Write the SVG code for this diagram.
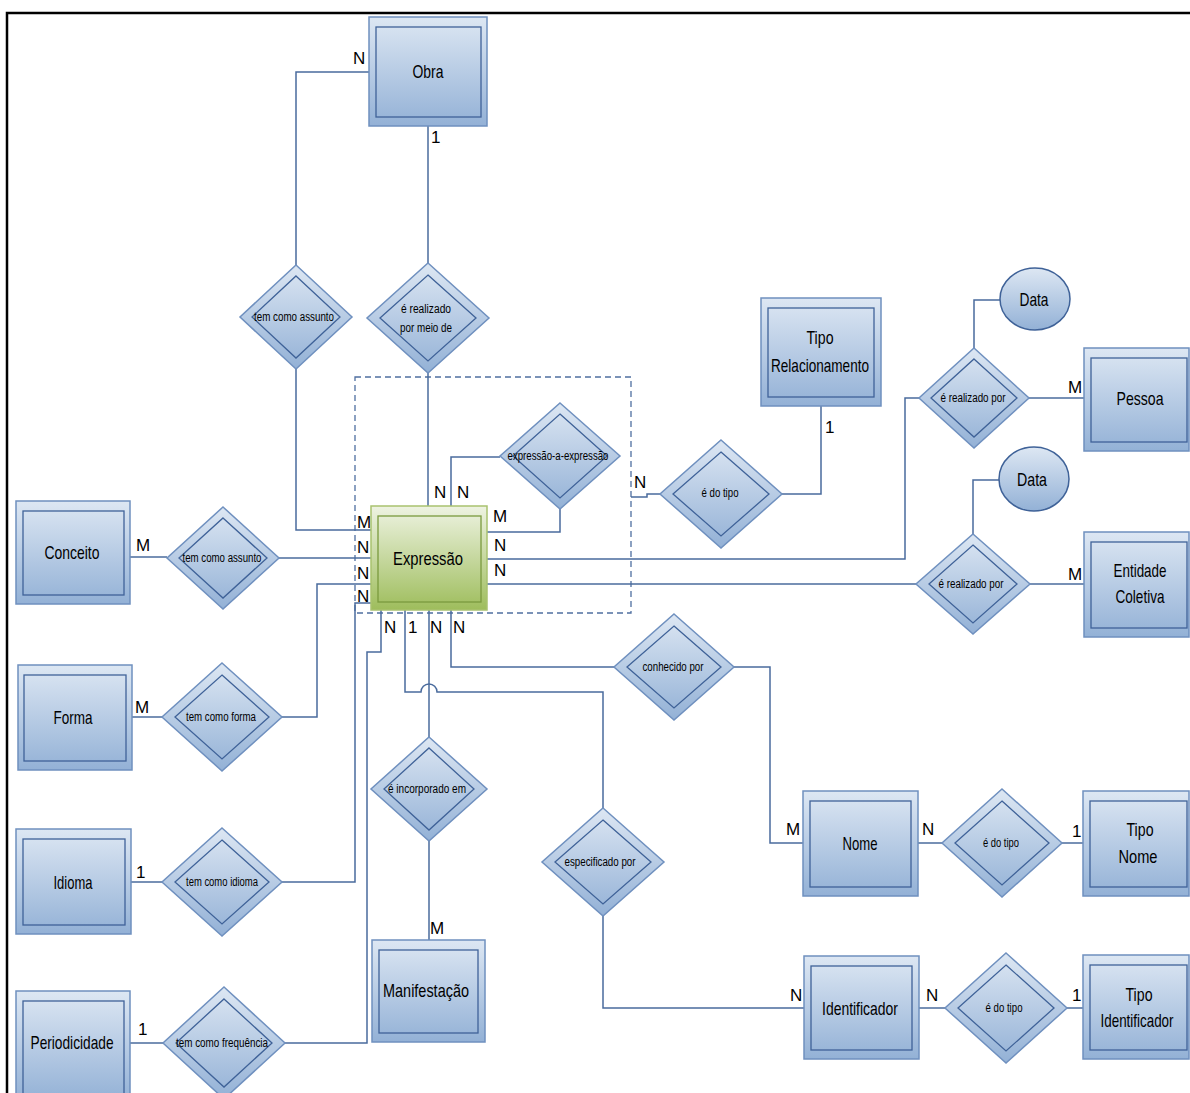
<svg xmlns="http://www.w3.org/2000/svg" width="1190" height="1093" viewBox="0 0 1190 1093">
<defs>
<linearGradient id="gb" x1="0" y1="0" x2="0" y2="1"><stop offset="0" stop-color="#dde7f3"/><stop offset="1" stop-color="#93b1d6"/></linearGradient>
<linearGradient id="gg" x1="0" y1="0" x2="0" y2="1"><stop offset="0" stop-color="#eef3e2"/><stop offset="1" stop-color="#9ebd5c"/></linearGradient>
<style>
.o{fill:url(#gb);stroke:#6f90bf;stroke-width:1.5}
.i{fill:none;stroke:#3f6298;stroke-width:1.3}
.og{fill:url(#gg);stroke:#a9c26f;stroke-width:1.5}
.ig{fill:none;stroke:#7a9a3e;stroke-width:1.3}
.t{font-family:"Liberation Sans",Arial,sans-serif;font-size:19px;fill:#000;text-anchor:middle}
.s{font-family:"Liberation Sans",Arial,sans-serif;font-size:12.5px;fill:#000;text-anchor:middle}
.c{font-family:"Liberation Sans",Arial,sans-serif;font-size:17px;fill:#000}
.l{fill:none;stroke:#4a6b9d;stroke-width:1.5}
</style>
</defs>
<rect width="1190" height="1093" fill="#fff"/>
<path d="M7,1093 V13 H1190" fill="none" stroke="#000" stroke-width="2.5"/>
<rect x="355" y="377" width="276" height="236" fill="none" stroke="#4f6fa0" stroke-width="1.3" stroke-dasharray="6,4"/>

<g id="connectors">
<path class="l" d="M369,72 H296 V265"/>
<path class="l" d="M296,369 V530 H371"/>
<path class="l" d="M428,126 V263"/>
<path class="l" d="M428,373 V506"/>
<path class="l" d="M451,506 V457 H500"/>
<path class="l" d="M560,509 V532 H487"/>
<path class="l" d="M130,557 H167"/>
<path class="l" d="M279,558 H371"/>
<path class="l" d="M132,717 H162"/>
<path class="l" d="M282,717 H317 V584 H371"/>
<path class="l" d="M131,882 H162"/>
<path class="l" d="M282,882 H355 V603 H371"/>
<path class="l" d="M130,1043 H163"/>
<path class="l" d="M285,1043 H367 V652 H381 V610"/>
<path class="l" d="M405,610 V692 H421 A8,8 0 0 1 437,692 H603 V808"/>
<path class="l" d="M603,916 V1008 H804"/>
<path class="l" d="M429,610 V737"/>
<path class="l" d="M429,841 V940"/>
<path class="l" d="M451,610 V667 H614"/>
<path class="l" d="M734,667 H770 V843 H803"/>
<path class="l" d="M918,843 H942"/>
<path class="l" d="M1062,843 H1083"/>
<path class="l" d="M919,1008 H945"/>
<path class="l" d="M1067,1008 H1083"/>
<path class="l" d="M487,559 H905 V398 H919"/>
<path class="l" d="M1029,398 H1084"/>
<path class="l" d="M974,348 V300 H1000"/>
<path class="l" d="M487,584 H916"/>
<path class="l" d="M1030,584 H1084"/>
<path class="l" d="M973,534 V480 H999"/>
<path class="l" d="M631,497 H647 V494 H660"/>
<path class="l" d="M782,494 H821 V406"/>
</g>

<g id="labels">
<text class="c" x="353" y="64">N</text>
<text class="c" x="431" y="143">1</text>
<text class="c" x="357" y="528">M</text>
<text class="c" x="357" y="553">N</text>
<text class="c" x="357" y="579">N</text>
<text class="c" x="357" y="602">N</text>
<text class="c" x="434" y="498">N</text>
<text class="c" x="457" y="498">N</text>
<text class="c" x="493" y="522">M</text>
<text class="c" x="494" y="551">N</text>
<text class="c" x="494" y="576">N</text>
<text class="c" x="384" y="633">N</text>
<text class="c" x="408" y="633">1</text>
<text class="c" x="430" y="633">N</text>
<text class="c" x="453" y="633">N</text>
<text class="c" x="136" y="551">M</text>
<text class="c" x="135" y="713">M</text>
<text class="c" x="136" y="878">1</text>
<text class="c" x="138" y="1035">1</text>
<text class="c" x="430" y="934">M</text>
<text class="c" x="634" y="488">N</text>
<text class="c" x="825" y="433">1</text>
<text class="c" x="1068" y="393">M</text>
<text class="c" x="1068" y="580">M</text>
<text class="c" x="786" y="835">M</text>
<text class="c" x="922" y="835">N</text>
<text class="c" x="1072" y="837">1</text>
<text class="c" x="790" y="1001">N</text>
<text class="c" x="926" y="1001">N</text>
<text class="c" x="1072" y="1001">1</text>
</g>

<g id="obra"><rect class="o" x="369" y="17" width="118" height="109"/><rect class="i" x="376" y="27" width="105" height="90"/><text class="t" x="428" y="78" textLength="31" lengthAdjust="spacingAndGlyphs">Obra</text></g>
<g id="expressao"><rect class="og" x="371" y="506" width="116" height="104"/><rect class="ig" x="378" y="516" width="103" height="86"/><text class="t" x="428" y="565" textLength="70" lengthAdjust="spacingAndGlyphs">Expressão</text></g>
<g id="tipo-relacionamento"><rect class="o" x="761" y="298" width="120" height="108"/><rect class="i" x="768" y="308" width="106" height="89"/><text class="t" x="820" y="344" textLength="27" lengthAdjust="spacingAndGlyphs">Tipo</text><text class="t" x="820" y="372" textLength="98" lengthAdjust="spacingAndGlyphs">Relacionamento</text></g>
<g id="pessoa"><rect class="o" x="1084" y="348" width="105" height="103"/><rect class="i" x="1091" y="358" width="96" height="84"/><text class="t" x="1140" y="405" textLength="47" lengthAdjust="spacingAndGlyphs">Pessoa</text></g>
<g id="entidade-coletiva"><rect class="o" x="1084" y="532" width="105" height="105"/><rect class="i" x="1091" y="542" width="96" height="86"/><text class="t" x="1140" y="577" textLength="53" lengthAdjust="spacingAndGlyphs">Entidade</text><text class="t" x="1140" y="603" textLength="49" lengthAdjust="spacingAndGlyphs">Coletiva</text></g>
<g id="nome"><rect class="o" x="803" y="791" width="115" height="105"/><rect class="i" x="810" y="801" width="101" height="86"/><text class="t" x="860" y="850" textLength="35" lengthAdjust="spacingAndGlyphs">Nome</text></g>
<g id="tipo-nome"><rect class="o" x="1083" y="791" width="106" height="105"/><rect class="i" x="1090" y="801" width="97" height="86"/><text class="t" x="1140" y="836" textLength="27" lengthAdjust="spacingAndGlyphs">Tipo</text><text class="t" x="1138" y="863" textLength="39" lengthAdjust="spacingAndGlyphs">Nome</text></g>
<g id="identificador"><rect class="o" x="804" y="956" width="115" height="103"/><rect class="i" x="811" y="966" width="101" height="84"/><text class="t" x="860" y="1015" textLength="76" lengthAdjust="spacingAndGlyphs">Identificador</text></g>
<g id="tipo-identificador"><rect class="o" x="1083" y="955" width="106" height="104"/><rect class="i" x="1090" y="965" width="97" height="85"/><text class="t" x="1139" y="1001" textLength="27" lengthAdjust="spacingAndGlyphs">Tipo</text><text class="t" x="1137" y="1027" textLength="73" lengthAdjust="spacingAndGlyphs">Identificador</text></g>
<g id="manifestacao"><rect class="o" x="372" y="940" width="113" height="102"/><rect class="i" x="379" y="950" width="99" height="83"/><text class="t" x="426" y="997" textLength="86" lengthAdjust="spacingAndGlyphs">Manifestação</text></g>
<g id="conceito"><rect class="o" x="16" y="501" width="114" height="103"/><rect class="i" x="23" y="511" width="101" height="84"/><text class="t" x="72" y="559" textLength="55" lengthAdjust="spacingAndGlyphs">Conceito</text></g>
<g id="forma"><rect class="o" x="18" y="665" width="114" height="105"/><rect class="i" x="24" y="675" width="102" height="86"/><text class="t" x="73" y="724" textLength="39" lengthAdjust="spacingAndGlyphs">Forma</text></g>
<g id="idioma"><rect class="o" x="16" y="829" width="115" height="105"/><rect class="i" x="23" y="839" width="102" height="86"/><text class="t" x="73" y="889" textLength="39" lengthAdjust="spacingAndGlyphs">Idioma</text></g>
<g id="periodicidade"><rect class="o" x="16" y="991" width="114" height="110"/><rect class="i" x="23" y="1001" width="101" height="96"/><text class="t" x="72" y="1049" textLength="83" lengthAdjust="spacingAndGlyphs">Periodicidade</text></g>

<g id="data1"><ellipse class="o" cx="1035" cy="299" rx="35" ry="31" style="stroke:#3f6298"/><text class="t" x="1034" y="306" textLength="29" lengthAdjust="spacingAndGlyphs">Data</text></g>
<g id="data2"><ellipse class="o" cx="1034" cy="479" rx="35" ry="32" style="stroke:#3f6298"/><text class="t" x="1032" y="486" textLength="30" lengthAdjust="spacingAndGlyphs">Data</text></g>

<g id="r-tem-como-assunto-obra"><polygon class="o" points="296,265 352,317 296,369 240,317"/><polygon class="i" points="296,276 340,317 296,358 252,317"/><text class="s" x="294" y="321" textLength="80" lengthAdjust="spacingAndGlyphs">tem como assunto</text></g>
<g id="r-realizado-meio"><polygon class="o" points="428,263 489,318 428,373 367,318"/><polygon class="i" points="428,275 476,318 428,361 380,318"/><text class="s" x="426" y="313" textLength="50" lengthAdjust="spacingAndGlyphs">é realizado</text><text class="s" x="426" y="332" textLength="52" lengthAdjust="spacingAndGlyphs">por meio de</text></g>
<g id="r-expressao-a-expressao"><polygon class="o" points="560,403 620,456 560,509 500,456"/><polygon class="i" points="560,414 607,456 560,498 513,456"/><text class="s" x="558" y="460" textLength="101" lengthAdjust="spacingAndGlyphs">expressão-a-expressão</text></g>
<g id="r-do-tipo-rel"><polygon class="o" points="721,440 782,494 721,548 660,494"/><polygon class="i" points="721,452 769,494 721,536 673,494"/><text class="s" x="720" y="497" textLength="37" lengthAdjust="spacingAndGlyphs">é do tipo</text></g>
<g id="r-realizado-pessoa"><polygon class="o" points="974,348 1029,398 974,448 919,398"/><polygon class="i" points="974,359 1017,398 974,437 931,398"/><text class="s" x="973" y="402" textLength="65" lengthAdjust="spacingAndGlyphs">é realizado por</text></g>
<g id="r-realizado-entidade"><polygon class="o" points="973,534 1030,584 973,634 916,584"/><polygon class="i" points="973,545 1017,584 973,623 929,584"/><text class="s" x="971" y="588" textLength="65" lengthAdjust="spacingAndGlyphs">é realizado por</text></g>
<g id="r-conhecido-por"><polygon class="o" points="674,614 734,667 674,720 614,667"/><polygon class="i" points="674,626 721,667 674,708 627,667"/><text class="s" x="673" y="671" textLength="61" lengthAdjust="spacingAndGlyphs">conhecido por</text></g>
<g id="r-do-tipo-nome"><polygon class="o" points="1002,789 1062,843 1002,897 942,843"/><polygon class="i" points="1002,801 1049,843 1002,885 955,843"/><text class="s" x="1001" y="847" textLength="36" lengthAdjust="spacingAndGlyphs">é do tipo</text></g>
<g id="r-do-tipo-id"><polygon class="o" points="1006,953 1067,1008 1006,1063 945,1008"/><polygon class="i" points="1006,965 1054,1008 1006,1051 958,1008"/><text class="s" x="1004" y="1012" textLength="37" lengthAdjust="spacingAndGlyphs">é do tipo</text></g>
<g id="r-especificado-por"><polygon class="o" points="603,808 664,862 603,916 542,862"/><polygon class="i" points="603,820 651,862 603,904 555,862"/><text class="s" x="600" y="866" textLength="71" lengthAdjust="spacingAndGlyphs">especificado por</text></g>
<g id="r-incorporado-em"><polygon class="o" points="429,737 487,789 429,841 371,789"/><polygon class="i" points="429,748 474,789 429,830 384,789"/><text class="s" x="427" y="793" textLength="78" lengthAdjust="spacingAndGlyphs">é incorporado em</text></g>
<g id="r-tem-como-assunto"><polygon class="o" points="223,507 279,558 223,609 167,558"/><polygon class="i" points="223,518 267,558 223,598 179,558"/><text class="s" x="222" y="562" textLength="79" lengthAdjust="spacingAndGlyphs">tem como assunto</text></g>
<g id="r-tem-como-forma"><polygon class="o" points="222,663 282,717 222,771 162,717"/><polygon class="i" points="222,675 269,717 222,759 175,717"/><text class="s" x="221" y="721" textLength="70" lengthAdjust="spacingAndGlyphs">tem como forma</text></g>
<g id="r-tem-como-idioma"><polygon class="o" points="222,828 282,882 222,936 162,882"/><polygon class="i" points="222,840 269,882 222,924 175,882"/><text class="s" x="222" y="886" textLength="72" lengthAdjust="spacingAndGlyphs">tem como idioma</text></g>
<g id="r-tem-como-frequencia"><polygon class="o" points="224,987 285,1043 224,1099 163,1043"/><polygon class="i" points="224,999 272,1043 224,1087 176,1043"/><text class="s" x="222" y="1047" textLength="92" lengthAdjust="spacingAndGlyphs">tem como frequência</text></g>
</svg>
